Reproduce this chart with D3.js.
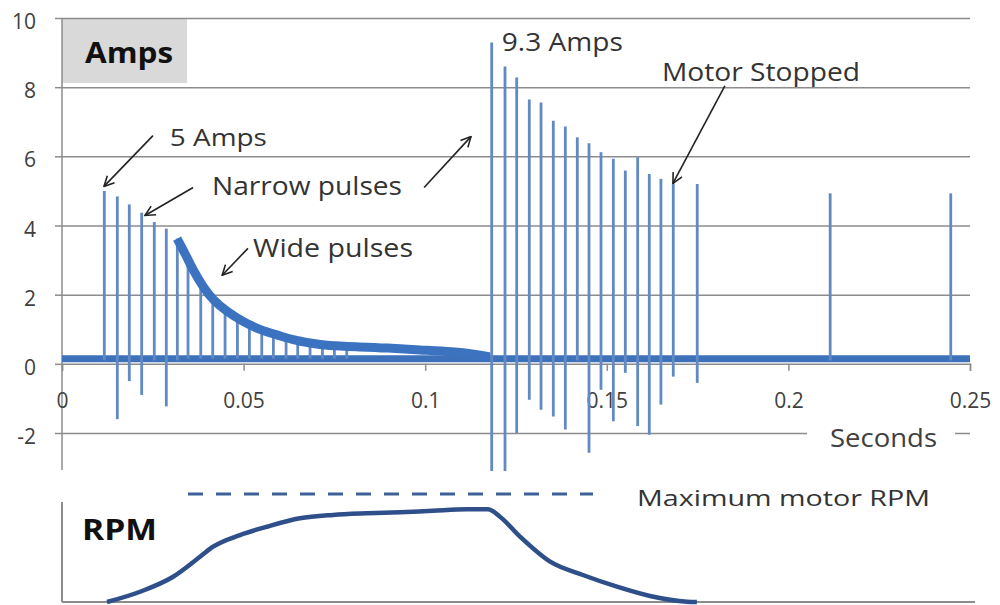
<!DOCTYPE html>
<html>
<head>
<meta charset="utf-8">
<script src="https://cdn.jsdelivr.net/npm/d3@7"></script>
<style>
  body { margin: 0; background: #fff; }
  svg { display: block; font-family: "Open Sans", sans-serif; }
</style>
</head>
<body>
<svg id="chart" width="1000" height="605"></svg>
<script>
// ---- data ----
const xTicks = [0, 0.05, 0.1, 0.15, 0.2, 0.25];
const xTickLabels = ["0", "0.05", "0.1", "0.15", "0.2", "0.25"];
const yTicks = [-2, 0, 2, 4, 6, 8, 10];
const yTickLabels = ["-2", "0", "2", "4", "6", "8", "10"];

const noiseLevel = 0.15;   // noisy floor around zero

// narrow pulses at start-up
const narrowTime = [0.01165, 0.01523, 0.01853, 0.02194, 0.02541, 0.02872, 0.03175];
const narrowPeak = [5.0, 4.84, 4.61, 4.37, 4.1, 3.91, 3.62];
const narrowMin  = [0.1, -1.6, -0.5, -0.9, 0.1, -1.23, 0.1];

// wide pulses: top of the decaying current band
const envelopeTime = [0.0317, 0.0344, 0.0361, 0.0388, 0.0416, 0.0454, 0.0498, 0.0545, 0.0592,
                      0.0636, 0.0683, 0.0730, 0.0820, 0.0895, 0.0986, 0.1077, 0.1137, 0.1178];
const envelopeAmps = [3.62, 3.08, 2.71, 2.23, 1.84, 1.51, 1.22, 0.98, 0.84,
                      0.69, 0.60, 0.52, 0.49, 0.46, 0.40, 0.35, 0.28, 0.2];
// short gaps between the wide pulses
const wideTime = [0.0347, 0.0382, 0.0415, 0.0449, 0.0483, 0.0516, 0.0550, 0.0582, 0.0617,
                  0.0649, 0.0683, 0.0717, 0.0750, 0.0784];
const wideTop  = [3.08, 2.4, 1.86, 1.55, 1.32, 1.15, 0.97, 0.86, 0.74, 0.68, 0.6, 0.53, 0.5, 0.48];

// braking pulses
const brakeTime = [0.11831, 0.12197, 0.12519, 0.12866, 0.13189, 0.13527, 0.13858, 0.14188, 0.1451,
                   0.1484, 0.1518, 0.1551, 0.1585, 0.1617, 0.1649, 0.1683, 0.1749, 0.2115, 0.2447];
const brakePeak = [9.29, 8.6, 8.28, 7.64, 7.56, 7.03, 6.86, 6.55, 6.38,
                   6.12, 5.93, 5.59, 5.97, 5.49, 5.35, 5.22, 5.2, 4.93, 4.93];
const brakeMin  = [-3.1, -3.1, -2.0, -1.04, -1.33, -1.52, -1.9, 0.1, -2.57,
                   -0.75, -1.66, -0.26, -1.8, -2.05, -1.18, -0.37, -0.55, 0.1, 0.1];

// motor speed, percent of maximum
const rpmTime = [0.0124, 0.0215, 0.0306, 0.0380, 0.0416, 0.0490, 0.0564, 0.0655, 0.0746, 0.0840,
                 0.0931, 0.1021, 0.1115, 0.1173, 0.1206, 0.1261, 0.1344, 0.1434, 0.1528, 0.1619,
                 0.1721, 0.1748];
const rpmPct  = [0, 9.5, 23.4, 41.9, 51.2, 62.0, 69.7, 77.5, 80.6, 82.1,
                 83.1, 84.5, 85.8, 85.8, 79.0, 60.5, 37.3, 25.0, 14.2, 5.6,
                 0.3, 0];
const rpmMaxSpan = [0.0347, 0.1462];

// annotations: [text, t, amps, font size, width]
const notes = [
  ["5 Amps", 0.0297, 6.3, 23, 97],
  ["Narrow pulses", 0.0413, 4.87, 25, 190],
  ["Wide pulses", 0.0526, 3.08, 25, 160],
  ["9.3 Amps", 0.1211, 9.05, 25, 121],
  ["Motor Stopped", 0.1652, 8.18, 25, 198]
];
// arrows: tail t, tail amps, head t, head amps
const arrows = [
  [0.02505, 6.6, 0.01156, 5.13],
  [0.0361, 5.1, 0.02285, 4.29],
  [0.0997, 5.1, 0.1126, 6.57],
  [0.0512, 3.34, 0.0441, 2.56],
  [0.1825, 8.04, 0.1682, 5.22]
];

// ---- layout ----
const svg = d3.select("#chart");
const x = d3.scaleLinear().domain([0, 0.25]).range([62, 970]);
const y = d3.scaleLinear().domain([-2, 10]).range([433, 18]);
const yR = d3.scaleLinear().domain([0, 100]).range([602, 494]);

const grid = "#8c8c8c";
const ink = "#333";

// grey "Amps" box
svg.append("rect").attr("x", x(0)).attr("y", y(10)).attr("width", 125).attr("height", 65)
  .attr("fill", "#d9d9d9");

// gridlines
svg.append("g").attr("transform", `translate(${x(0)},0)`)
  .call(d3.axisLeft(y).tickValues(yTicks.filter(d => d !== 0)).tickSize(-(x(0.25) - x(0))).tickFormat(""))
  .call(g => g.select(".domain").remove())
  .selectAll("line").attr("stroke", grid).attr("stroke-width", 1.5);

// y axis
svg.append("g").attr("transform", `translate(${x(0)},0)`)
  .call(d3.axisLeft(y).tickValues(yTicks).tickSize(7).tickPadding(19)
    .tickFormat((d, i) => yTickLabels[i]))
  .call(g => g.select(".domain").remove())
  .call(g => g.selectAll("line").attr("stroke", grid).attr("stroke-width", 1.5))
  .call(g => g.selectAll("text").attr("font-size", 21).attr("fill", "#404040")
    .attr("font-family", "Open Sans").attr("dy", "0.5em"));
svg.append("line").attr("x1", x(0)).attr("x2", x(0)).attr("y1", y(10)).attr("y2", 470)
  .attr("stroke", grid).attr("stroke-width", 1.5);

// x axis at zero
svg.append("g").attr("transform", `translate(0,${y(0)})`)
  .call(d3.axisBottom(x).tickValues(xTicks).tickSize(7).tickPadding(22)
    .tickFormat((d, i) => xTickLabels[i]))
  .call(g => g.select(".domain").attr("stroke", grid).attr("stroke-width", 1.5))
  .call(g => g.selectAll("line").attr("stroke", grid).attr("stroke-width", 1.5))
  .call(g => g.selectAll("text").attr("font-size", 21).attr("fill", "#404040")
    .attr("font-family", "Open Sans"));

// "Seconds" sits on a white patch cut out of the -2 gridline
svg.append("rect").attr("x", 807).attr("y", 420).attr("width", 148).attr("height", 34).attr("fill", "#fff");
svg.append("text").attr("x", 830).attr("y", 447).attr("font-size", 25).attr("fill", "#404040")
  .attr("textLength", 107).attr("lengthAdjust", "spacingAndGlyphs").text("Seconds");

svg.append("text").attr("x", 85).attr("y", 63).attr("font-size", 28).attr("font-weight", 700)
  .attr("fill", "#111").attr("textLength", 88).attr("lengthAdjust", "spacingAndGlyphs").text("Amps");

// ---- current trace ----
const line = d3.line().x(d => x(d[0])).y(d => y(d[1]));
const trace = svg.append("g");

trace.append("path")
  .attr("d", line([[0, noiseLevel], [0.25, noiseLevel]]))
  .attr("stroke", "#3d72bb").attr("stroke-width", 7).attr("fill", "none");

const pulse = (t, lo, hi) => line([[t, lo], [t, hi]]);
const pulseColor = "#6189c4";

trace.selectAll(".narrow").data(narrowTime).join("path").attr("class", "narrow")
  .attr("d", (t, i) => pulse(t, narrowMin[i], narrowPeak[i]))
  .attr("stroke", pulseColor).attr("stroke-width", 2.8);

trace.selectAll(".wide").data(wideTime).join("path").attr("class", "wide")
  .attr("d", (t, i) => pulse(t, noiseLevel, wideTop[i]))
  .attr("stroke", pulseColor).attr("stroke-width", 2.8);

trace.append("path")
  .attr("d", d3.line().x(d => x(d[0])).y(d => y(d[1])).curve(d3.curveBasis)(d3.zip(envelopeTime, envelopeAmps)))
  .attr("stroke", "#3b73c0").attr("stroke-width", 9).attr("fill", "none").attr("stroke-linecap", "butt");

trace.selectAll(".brake").data(brakeTime).join("path").attr("class", "brake")
  .attr("d", (t, i) => pulse(t, brakeMin[i], brakePeak[i]))
  .attr("stroke", pulseColor).attr("stroke-width", 2.8);

// ---- annotations ----
svg.append("defs").append("marker").attr("id", "head")
  .attr("viewBox", "0 0 12 12").attr("refX", 11).attr("refY", 6)
  .attr("markerWidth", 12).attr("markerHeight", 12).attr("markerUnits", "userSpaceOnUse")
  .attr("orient", "auto")
  .append("path").attr("d", "M1,1 L11,6 L1,11").attr("fill", "none")
  .attr("stroke", "#222").attr("stroke-width", 1.6);

svg.selectAll(".arrow").data(arrows).join("line").attr("class", "arrow")
  .attr("x1", d => x(d[0])).attr("y1", d => y(d[1]))
  .attr("x2", d => x(d[2])).attr("y2", d => y(d[3]))
  .attr("stroke", "#222").attr("stroke-width", 1.6).attr("marker-end", "url(#head)");

svg.selectAll(".note").data(notes).join("text").attr("class", "note")
  .attr("x", d => x(d[1])).attr("y", d => y(d[2]))
  .attr("font-size", d => d[3]).attr("fill", ink)
  .attr("textLength", d => d[4]).attr("lengthAdjust", "spacingAndGlyphs")
  .text(d => d[0]);

// ---- RPM panel ----
svg.append("line").attr("x1", x(0)).attr("x2", x(0)).attr("y1", 502).attr("y2", yR(0))
  .attr("stroke", grid).attr("stroke-width", 2);
svg.append("line").attr("x1", x(0)).attr("x2", 975).attr("y1", yR(0)).attr("y2", yR(0))
  .attr("stroke", grid).attr("stroke-width", 2);

svg.append("text").attr("x", 82).attr("y", 540).attr("font-size", 28).attr("font-weight", 700)
  .attr("fill", "#111").attr("textLength", 75).attr("lengthAdjust", "spacingAndGlyphs").text("RPM");

svg.append("path")
  .attr("d", d3.line().x(d => x(d)).y(yR(100))(rpmMaxSpan))
  .attr("stroke", "#3e6096").attr("stroke-width", 3).attr("stroke-dasharray", "15,13").attr("fill", "none");

svg.append("text").attr("x", 637).attr("y", 506).attr("font-size", 22).attr("fill", ink)
  .attr("textLength", 293).attr("lengthAdjust", "spacingAndGlyphs").text("Maximum motor RPM");

svg.append("path")
  .attr("d", d3.line().x(d => x(d[0])).y(d => yR(d[1])).curve(d3.curveMonotoneX)(d3.zip(rpmTime, rpmPct)))
  .attr("stroke", "#2e4f8a").attr("stroke-width", 4.5).attr("fill", "none").attr("stroke-linejoin", "round");
</script>
</body>
</html>
